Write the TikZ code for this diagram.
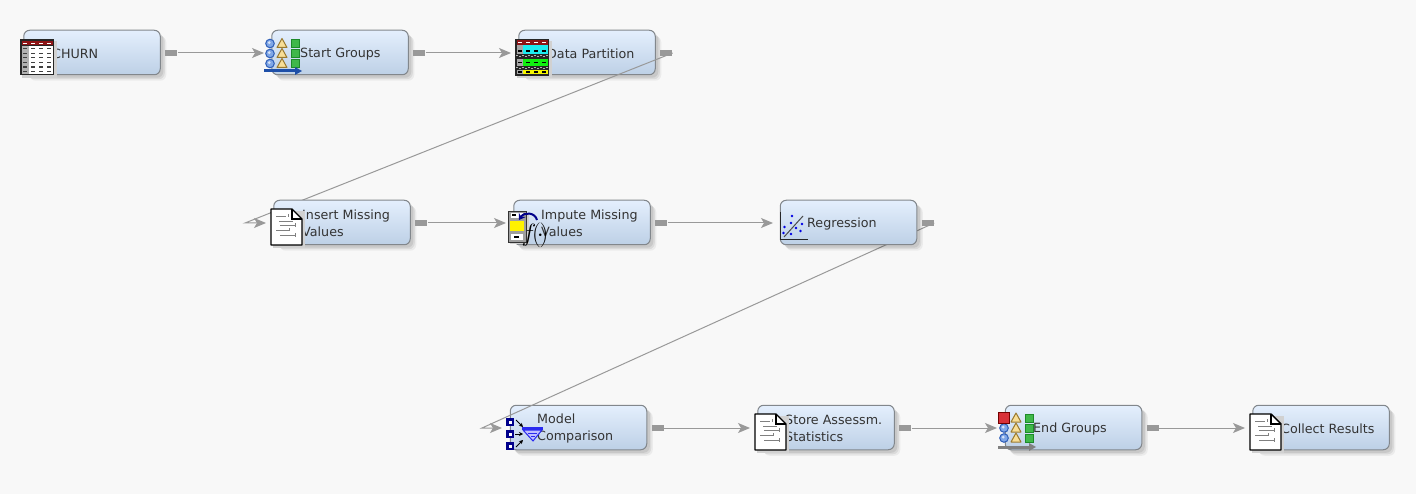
\documentclass[tikz,border=0pt]{standalone}
\usepackage{fontspec}
\setmainfont{DejaVu Sans}
\usepackage{tikz}
\usetikzlibrary{arrows.meta,positioning,shadows}
\definecolor{canvasbg}{HTML}{F8F8F8}
\definecolor{boxline}{HTML}{82878C}
\definecolor{boxtop}{HTML}{E4EFFD}
\definecolor{boxbottom}{HTML}{BDD0E6}
\definecolor{wiregray}{HTML}{999999}
\definecolor{labelink}{HTML}{333333}
\definecolor{navyicon}{HTML}{00008B}
\definecolor{aquacell}{HTML}{1EEBF0}
\definecolor{limecell}{HTML}{10F010}
\definecolor{yellowcell}{HTML}{F5F500}
\definecolor{darkredcell}{HTML}{8E1416}
\definecolor{circlefill}{HTML}{7FA6E6}
\definecolor{circleline}{HTML}{2F5FB8}
\definecolor{trifill}{HTML}{F8DE96}
\definecolor{triline}{HTML}{9A7A30}
\definecolor{sqfill}{HTML}{3FB84A}
\definecolor{sqline}{HTML}{1D8A2A}
\definecolor{redmark}{HTML}{D83038}
\definecolor{bluearrow}{HTML}{1E4FA8}
\definecolor{funnelblue}{HTML}{2A2AF0}
\pgfdeclarelayer{backbox}
\pgfdeclarelayer{wires}
\pgfsetlayers{backbox,wires,main}

\begin{document}
\begin{tikzpicture}[
    x=1pt, y=-1pt,
    nodebox/.style={draw=boxline, line width=1pt, rounded corners=6pt, minimum width=136.5pt, minimum height=44.5pt, inner sep=0pt,
        top color=boxtop, bottom color=boxbottom,
        drop shadow={shadow xshift=6pt, shadow yshift=-6pt, opacity=0.05, fill=black},
        drop shadow={shadow xshift=4.5pt, shadow yshift=-4.5pt, opacity=0.07, fill=black},
        drop shadow={shadow xshift=3pt, shadow yshift=-3pt, opacity=0.08, fill=black}},
    boxtext/.style={anchor=west, inner sep=0pt, align=left, text=labelink, font=\fontsize{12.7}{17}\selectfont},
    stubnode/.style={fill=wiregray, minimum width=12pt, minimum height=5.5pt, inner sep=0pt, yshift=-0.5pt},
    wire/.style={draw=wiregray, line width=1pt, -{Stealth[length=12pt, width=10pt, inset=3pt]}, line join=miter},
    tableicon/.pic={
        \fill[black!18] (2,2) rectangle (37,39);
        \fill[black!85] (0,0) rectangle (34,36);
        \fill[darkredcell] (1.5,1.5) rectangle (32.5,6);
        \fill[gray!60] (1.5,6.5) rectangle (8.5,34.5);
        \fill[white] (9,6.5) rectangle (32.5,34.5);
        \foreach \c in {0,1,2,3} {
            \fill[white] (3+\c*8,3.2) rectangle +(4,1.2);
            \foreach \r in {0,...,5} {\fill[black!75] (3+\c*8,8.5+\r*4.6) rectangle +(4,1.2);}
        }
    },
    partitionicon/.pic={
        \fill[black!18] (2,2) rectangle (37,39);
        \fill[black!85] (0,0) rectangle (34,37);
        \fill[darkredcell] (1.5,1.5) rectangle (32.5,6);
        \fill[gray!70] (1.5,6.5) rectangle (8,15);
        \fill[aquacell] (8,6.5) rectangle (32.5,15);
        \fill[gray!70] (1.5,20) rectangle (8,27);
        \fill[limecell] (8,20) rectangle (32.5,27);
        \fill[gray!70] (1.5,31) rectangle (8,35.5);
        \fill[yellowcell] (8,31) rectangle (32.5,35.5);
        \foreach \c in {0,1,2,3} {
            \fill[white] (3+\c*8,3.2) rectangle +(4,1.2);
            \fill[black] (3+\c*8,11.5) rectangle +(4,1.4);
            \fill[black] (3+\c*8,23) rectangle +(4,1.4);
            \fill[black] (3+\c*8,32.5) rectangle +(4,1.4);
        }
        \foreach \c in {0,...,10} {
            \fill[white!70!black] (1+\c*3,{16+mod(\c,2)}) rectangle +(1.5,1.5);
            \fill[white!70!black] (1+\c*3,{28.2+mod(\c,2)}) rectangle +(1.5,1);
        }
    },
    circlemark/.pic={
        \fill[circlefill, draw=circleline, line width=1pt] (0,0) circle (4.3pt);
        \fill[white!70!circlefill] (-.8,-.8) circle (1.5pt);
    },
    trianglemark/.pic={
        \fill[trifill, draw=triline, line width=1pt, line join=round] (0,-5) -- (5,4) -- (-5,4) -- cycle;
    },
    squaremark/.pic={
        \fill[sqfill, draw=sqline, line width=1pt] (-4,-4) rectangle (4,4);
    },
    startgroupicon/.pic={
        \foreach \r in {0,1,2} {
            \pic at (6,4.5+\r*10) {circlemark};
            \pic at (18,4.5+\r*10) {trianglemark};
            \pic at (31,4.5+\r*10) {squaremark};
        }
        \fill[bluearrow] (0,30.5) rectangle (31,33.5);
        \fill[bluearrow] (31,28) -- (38,32) -- (31,36) -- cycle;
    },
    endgroupicon/.pic={
        \foreach \r in {1,2} {\pic at (6,0+\r*10) {circlemark};}
        \fill[redmark, draw=red!45!black, line width=.8pt] (0.5,-5.5) rectangle (11.5,5.5);
        \foreach \r in {0,1,2} {
            \pic at (18,0+\r*10) {trianglemark};
            \pic at (31,0+\r*10) {squaremark};
        }
        \fill[gray] (0,27.5) rectangle (31,30.5);
        \fill[gray] (31,25) -- (38,29) -- (31,33) -- cycle;
    },
    noteicon/.pic={
        \fill[black!18] (2,2) -- (34,2) -- (34,39) -- (2,39) -- cycle;
        \draw[fill=white, line width=1.4pt, line join=round] (0,0) -- (21,0) -- (31,10) -- (31,36) -- (0,36) -- cycle;
        \draw[line width=1.2pt] (21,0) -- (21,10) -- (31,10);
        \draw[gray, line width=.8pt] (5,7) -- (15,7) (17,5) -- (17,8) (8,12) -- (22,12) (9,16) -- (24,16) (24,14) -- (24,18)
            (5,21) -- (18,21) (18,19) -- (18,22) (9,26) -- (24,26) (24,24) -- (24,28);
    },
    imputeicon/.pic={
        \fill[black!18] (2,2) rectangle (21,33);
        \fill[gray!75] (0,0) rectangle (18,31);
        \draw[black!80, line width=.8pt] (0,0) rectangle (18,31);
        \fill[white] (3,2.5) rectangle (15,7);
        \fill[yellow] (2,10) rectangle (16,20);
        \fill[white] (3,23) rectangle (15,29);
        \fill[black] (4,3.5) rectangle (8,5);
        \fill[black] (6,25.5) rectangle (11,27);
        \draw[navyicon, line width=2pt, -{Stealth[length=6pt, width=8pt]}] (29,9) .. controls (27,1) and (16,1) .. (11,9);
    },
    regicon/.pic={
        \draw[black!85, line width=1pt] (0,0) -- (0,28) -- (28,28);
        \draw[black!70, line width=1pt] (4,25) -- (23,4);
        \foreach \dx/\dy in {12/4,11/11,4.5/15,16/16,11/22,3.5/21,22/12,20.5/19} {\fill[blue!90!black] (\dx,\dy) circle (1.3pt);}
    },
    compareicon/.pic={
        \foreach \r in {0,12,24} {
            \fill[navyicon] (0,\r) rectangle (8,8+\r);
            \fill[white] (2.5,2.5+\r) rectangle (5.5,5.5+\r);
        }
        \draw[black, line width=.8pt, -{Stealth[length=4pt, width=4pt]}] (10,2) -- (17,9);
        \draw[black, line width=.8pt, -{Stealth[length=4pt, width=4pt]}] (9,16) -- (17,16);
        \draw[black, line width=.8pt, -{Stealth[length=4pt, width=4pt]}] (10,29) -- (17,22);
        \fill[funnelblue] (16,9) rectangle (37,12);
        \fill[blue!25!white, draw=funnelblue, line width=1pt] (17,12) -- (36,12) -- (27,23) -- cycle;
        \draw[funnelblue, line width=1pt] (22,15) -- (31,15) (25,18) -- (29,18);
    }
]
\useasboundingbox (0,0) rectangle (1416,494);
\begin{pgfonlayer}{backbox}
    \fill[canvasbg] (0,0) rectangle (1416,494);
\end{pgfonlayer}
% ROW 1: boxes
\node[nodebox] (churn) at (92,52.5) {};
\node[boxtext] (churntext) at (52,54) {CHURN};
\node[stubnode, right=4.5pt of churn] (churnout) {};
\node[nodebox] (startg) at (340,52.5) {};
\node[boxtext] (startgtext) at (300,54) {Start Groups};
\node[stubnode, right=4.5pt of startg] (startgout) {};
\begin{pgfonlayer}{backbox}
    \node[nodebox] (datap) at (587,52.5) {};
\end{pgfonlayer}
\node[boxtext] (dataptext) at (547,54) {Data Partition};
\node[stubnode, right=4.5pt of datap] (datapout) {};
% ROW 2: boxes
\node[nodebox] (insertm) at (342,222.5) {};
\node[boxtext] (insertmtext) at (302,223.5) {Insert Missing\\Values};
\node[stubnode, right=4.5pt of insertm] (insertmout) {};
\node[nodebox] (imputem) at (582,222.5) {};
\node[boxtext] (imputemtext) at (541,223.5) {Impute Missing\\Values};
\node[stubnode, right=4.5pt of imputem] (imputemout) {};
\node[nodebox] (regress) at (848.5,222.5) {};
\node[boxtext] (regresstext) at (807,224) {Regression};
\node[stubnode, right=4.5pt of regress] (regressout) {};
% ROW 3: boxes
\begin{pgfonlayer}{backbox}
    \node[nodebox] (modelc) at (578.5,427.5) {};
\end{pgfonlayer}
\node[boxtext] (modelctext) at (537,428.5) {Model\\Comparison};
\node[stubnode, right=4.5pt of modelc] (modelcout) {};
\node[nodebox] (storea) at (826,427.5) {};
\node[boxtext] (storeatext) at (785,428.5) {Store Assessm.\\Statistics};
\node[stubnode, right=4.5pt of storea] (storeaout) {};
\node[nodebox] (endg) at (1073.5,427.5) {};
\node[boxtext] (endgtext) at (1033,429) {End Groups};
\node[stubnode, right=4.5pt of endg] (endgout) {};
\node[nodebox] (collect) at (1321,427.5) {};
\node[boxtext] (collecttext) at (1281,429) {Collect Results};
% Wire ends
\coordinate (startgin) at (264,53);
\coordinate (datapin) at (511,53);
\coordinate (insertmturn) at (245,223);
\coordinate (insertmin) at (266,223);
\coordinate (imputemin) at (506,223);
\coordinate (regressin) at (773,223);
\coordinate (modelcturn) at (482,428);
\coordinate (modelcin) at (502,428);
\coordinate (storeain) at (750,428);
\coordinate (endgin) at (997,428);
\coordinate (collectin) at (1245,428);
% Wires
\begin{pgfonlayer}{wires}
    \draw[wire] (churnout.east) -- (startgin);
    \draw[wire] (startgout.east) -- (datapin);
    \draw[wire] (datapout.east) -- (insertmturn) -- (insertmin);
    \draw[wire] (insertmout.east) -- (imputemin);
    \draw[wire] (imputemout.east) -- (regressin);
    \draw[wire] (regressout.east) -- (modelcturn) -- (modelcin);
    \draw[wire] (modelcout.east) -- (storeain);
    \draw[wire] (storeaout.east) -- (endgin);
    \draw[wire] (endgout.east) -- (collectin);
\end{pgfonlayer}
% Icons
\pic (churnicon) at (20,39.5) {tableicon};
\pic (startgicon) at (264,39) {startgroupicon};
\pic (datapicon) at (515,39) {partitionicon};
\pic (insertmicon) at (271,209) {noteicon};
\pic (imputemicon) at (508,211) {imputeicon};
\node[inner sep=0pt, text=black, font=\fontsize{24}{24}\selectfont] (imputemf) at (535,235) {$f\!(\!\cdot\!)$};
\pic (regressicon) at (780,212) {regicon};
\pic (modelcicon) at (506,418) {compareicon};
\pic (storeaicon) at (755,414) {noteicon};
\pic (endgicon) at (998,418) {endgroupicon};
\pic (collecticon) at (1250,414) {noteicon};
\end{tikzpicture}
\end{document}
